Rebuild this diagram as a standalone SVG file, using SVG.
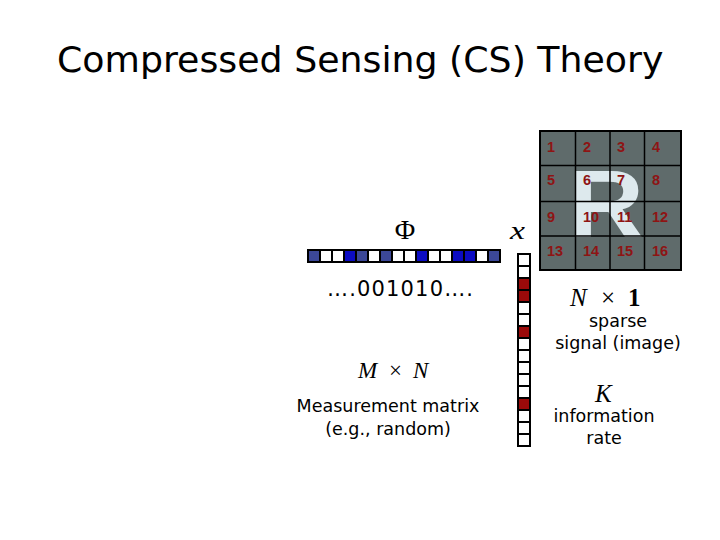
<svg xmlns="http://www.w3.org/2000/svg" width="720" height="540" viewBox="0 0 720 540">
  <style>
    .sans { font-family: "DejaVu Sans", Verdana, sans-serif; fill: #000; }
    .math { font-family: "Liberation Serif", "Times New Roman", serif; fill: #000; }
    .it { font-style: italic; }
    .num { font-family: "Liberation Sans", Arial, sans-serif; font-weight: bold; font-size: 14.5px; fill: #8e1414; }
    .cell { stroke: #000; stroke-width: 2; }
    .w { fill: #ffffff; }
    .r { fill: #9b0a0a; }
    .sl { fill: #3c4898; }
    .bl { fill: #0c0cc4; }
    .gl { stroke: #000; stroke-width: 1.5; fill: none; }
  </style>
  <rect width="720" height="540" fill="#ffffff"/>

  <g id="title">
    <text class="sans" x="57" y="72" font-size="36.3">Compressed Sensing (CS) Theory</text>
  </g>

  <g id="measurement-matrix">
    <text class="math" x="405" y="239" font-size="28" text-anchor="middle">Φ</text>
    <rect x="307" y="249" width="194" height="14" fill="#000"/>
    <g>
      <rect class="sl" x="309" y="251" width="10" height="10"/>
      <rect class="w" x="321" y="251" width="10" height="10"/>
      <rect class="w" x="333" y="251" width="10" height="10"/>
      <rect class="bl" x="345" y="251" width="10" height="10"/>
      <rect class="sl" x="357" y="251" width="10" height="10"/>
      <rect class="w" x="369" y="251" width="10" height="10"/>
      <rect class="sl" x="381" y="251" width="10" height="10"/>
      <rect class="w" x="393" y="251" width="10" height="10"/>
      <rect class="w" x="405" y="251" width="10" height="10"/>
      <rect class="bl" x="417" y="251" width="10" height="10"/>
      <rect class="w" x="429" y="251" width="10" height="10"/>
      <rect class="w" x="441" y="251" width="10" height="10"/>
      <rect class="bl" x="453" y="251" width="10" height="10"/>
      <rect class="bl" x="465" y="251" width="10" height="10"/>
      <rect class="w" x="477" y="251" width="10" height="10"/>
      <rect class="sl" x="489" y="251" width="10" height="10"/>
    </g>
    <text class="sans" x="400" y="296" font-size="21" text-anchor="middle" textLength="146" lengthAdjust="spacing">….001010….</text>
    <text class="math" x="358" y="378" font-size="23"><tspan class="it">M</tspan><tspan x="389">×</tspan><tspan class="it" x="413">N</tspan></text>
    <text class="sans" x="388" y="412" font-size="17.5" text-anchor="middle">Measurement matrix</text>
    <text class="sans" x="388" y="435" font-size="17.5" text-anchor="middle">(e.g., random)</text>
  </g>

  <g id="signal-vector">
    <text class="math it" transform="translate(510,239) scale(1.35,1)" font-size="25">x</text>
    <g>
      <rect class="cell w" x="518" y="254" width="12" height="12"/>
      <rect class="cell w" x="518" y="266" width="12" height="12"/>
      <rect class="cell r" x="518" y="278" width="12" height="12"/>
      <rect class="cell r" x="518" y="290" width="12" height="12"/>
      <rect class="cell w" x="518" y="302" width="12" height="12"/>
      <rect class="cell w" x="518" y="314" width="12" height="12"/>
      <rect class="cell r" x="518" y="326" width="12" height="12"/>
      <rect class="cell w" x="518" y="338" width="12" height="12"/>
      <rect class="cell w" x="518" y="350" width="12" height="12"/>
      <rect class="cell w" x="518" y="362" width="12" height="12"/>
      <rect class="cell w" x="518" y="374" width="12" height="12"/>
      <rect class="cell w" x="518" y="386" width="12" height="12"/>
      <rect class="cell r" x="518" y="398" width="12" height="12"/>
      <rect class="cell w" x="518" y="410" width="12" height="12"/>
      <rect class="cell w" x="518" y="422" width="12" height="12"/>
      <rect class="cell w" x="518" y="434" width="12" height="12"/>
    </g>
  </g>

  <g id="image-grid">
    <rect x="540" y="131" width="141" height="139" fill="#5f6b6b"/>
    <text transform="translate(569,237) scale(1.07,1)" font-family="Liberation Sans, Arial, sans-serif" font-weight="bold" font-size="97" fill="#dde9ed">R</text>
    <path class="gl" d="M575.5 131V270M610 131V270M644.5 131V270M540 165.5H681M540 201.5H681M540 236H681"/>
    <rect x="540" y="131" width="141" height="139" fill="none" stroke="#000" stroke-width="2"/>
    <g>
      <text class="num" x="547" y="152">1</text>
      <text class="num" x="583" y="152">2</text>
      <text class="num" x="617" y="152">3</text>
      <text class="num" x="652" y="152">4</text>
      <text class="num" x="547" y="185">5</text>
      <text class="num" x="583" y="185">6</text>
      <text class="num" x="617" y="185">7</text>
      <text class="num" x="652" y="185">8</text>
      <text class="num" x="547" y="222">9</text>
      <text class="num" x="583" y="222">10</text>
      <text class="num" x="617" y="222">11</text>
      <text class="num" x="652" y="222">12</text>
      <text class="num" x="547" y="256">13</text>
      <text class="num" x="583" y="256">14</text>
      <text class="num" x="617" y="256">15</text>
      <text class="num" x="652" y="256">16</text>
    </g>
  </g>

  <g id="sparse-label">
    <text class="math" x="570" y="306" font-size="25"><tspan class="it">N</tspan><tspan x="601">×</tspan><tspan x="628" font-weight="bold">1</tspan></text>
    <text class="sans" x="618" y="327" font-size="17.5" text-anchor="middle">sparse</text>
    <text class="sans" x="618" y="349" font-size="17.5" text-anchor="middle">signal (image)</text>
  </g>

  <g id="rate-label">
    <text class="math it" x="595" y="402" font-size="25">K</text>
    <text class="sans" x="604" y="422" font-size="17.5" text-anchor="middle">information</text>
    <text class="sans" x="604" y="444" font-size="17.5" text-anchor="middle">rate</text>
  </g>
</svg>
